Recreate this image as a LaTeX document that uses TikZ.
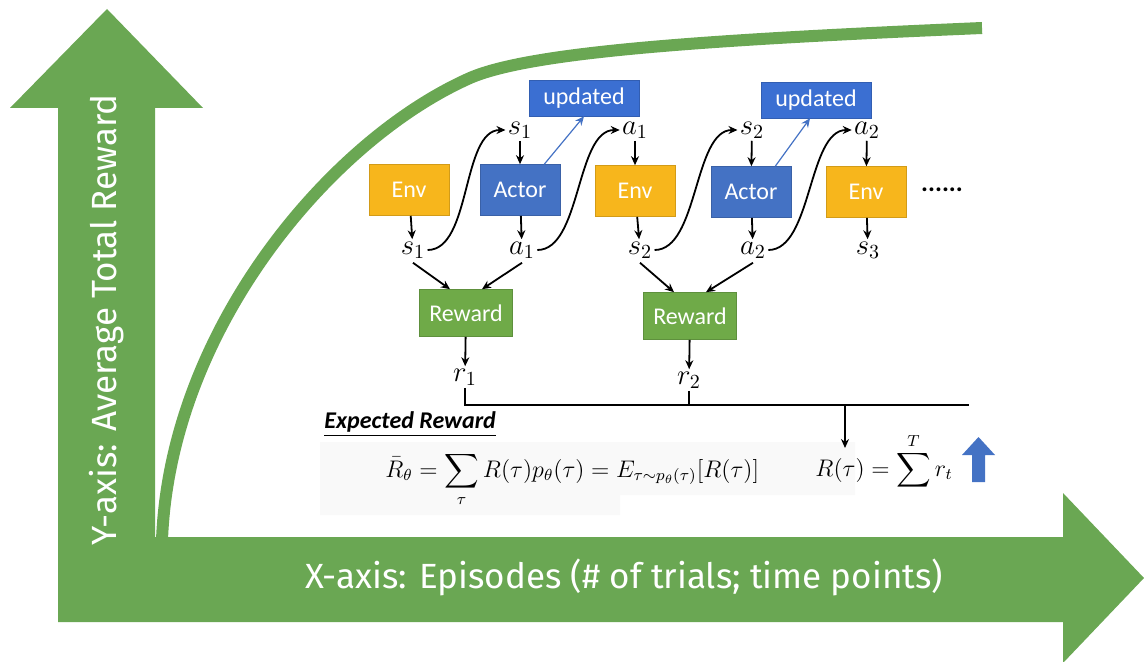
\documentclass[tikz,border=0pt]{standalone}
\usepackage[no-math]{fontspec}
\setmainfont{Carlito}
\newfontfamily\axisfont{Fira Sans}
\usepackage{amsmath}
\usetikzlibrary{arrows.meta}
\definecolor{axisgreen}{HTML}{6AA753}
\definecolor{envgold}{HTML}{F7B61C}
\definecolor{actorblue}{HTML}{4472C4}
\definecolor{updblue}{HTML}{3B6FD2}
\definecolor{rewgreen}{HTML}{6FAA48}

\begin{document}
\begin{tikzpicture}[
x=0.5pt, y=-0.5pt,
arr/.style={-{Stealth[length=4.5pt,width=4pt]}, line width=0.9pt},
box/.style={minimum width=40pt, minimum height=25.5pt, inner sep=0pt,
  text=white, font=\fontsize{12}{14}\selectfont, line width=0.3pt},
envbox/.style={box, fill=envgold, draw=envgold!85!black},
actorbox/.style={box, fill=actorblue, draw=actorblue!85!black},
updbox/.style={box, minimum width=55pt, minimum height=18pt, fill=updblue, draw=updblue!85!black},
rewbox/.style={box, minimum width=46.5pt, minimum height=23.5pt, fill=rewgreen, draw=rewgreen!85!black},
var/.style={font=\fontsize{14.4}{16}\selectfont, inner sep=1pt},
formula/.style={font=\fontsize{12}{14}\selectfont, inner sep=1pt, anchor=base west},
axislabel/.style={text=white, font=\axisfont\fontsize{17.5}{20}\selectfont}
]
\useasboundingbox (0,0) rectangle (1144,662);

% axes and learning curve
\fill[axisgreen] (58,622) -- (58,108) -- (10,108) -- (107,9) -- (203,108)
  -- (155,108) -- (155,537) -- (1063,537) -- (1063,493) -- (1144,578)
  -- (1063,663) -- (1063,622) -- cycle;
\draw[axisgreen, line width=6pt] (162,540) .. controls (170,330) and (330,140) .. (470,78)
  .. controls (530,52) and (700,40) .. (982,28);
\node[axislabel] (xlab) at (624,577) {X-axis: Episodes (\# of trials; time points)};
\node[axislabel, rotate=90] (ylab) at (107,320) {Y-axis: Average Total Reward};

% faint backdrop of the formula
\fill[gray!5] (320,442) rectangle (855,495) (320,495) rectangle (620,515);

% boxes
\node[envbox] (env1) at (409,190) {Env};
\node[actorbox] (actor1) at (520,190) {Actor};
\node[envbox] (env2) at (635,191) {Env};
\node[actorbox] (actor2) at (751,192) {Actor};
\node[envbox] (env3) at (866,192) {Env};
\node[font=\bfseries\fontsize{13}{15}\selectfont] (dots) at (942,190) {......};
\node[updbox] (upd1) at (584,98) {updated};
\node[updbox] (upd2) at (816,100) {updated};
\node[rewbox] (rew1) at (466,313) {Reward};
\node[rewbox] (rew2) at (690,316) {Reward};

% states and actions
\node[var] (s1t) at (520,130) {$s_1$};
\node[var] (a1t) at (635,130) {$a_1$};
\node[var] (s2t) at (752,130) {$s_2$};
\node[var] (a2t) at (867,130) {$a_2$};
\node[var] (s1b) at (413,250) {$s_1$};
\node[var] (a1b) at (522,250) {$a_1$};
\node[var] (s2b) at (640,250) {$s_2$};
\node[var] (a2b) at (753,250) {$a_2$};
\node[var] (s3) at (868,250) {$s_3$};
\node[var] (r1) at (465,377) {$r_1$};
\node[var] (r2) at (689,380) {$r_2$};

\draw[arr] (env1) -- (s1b);
\draw[arr] (s1t) -- (actor1);
\draw[arr] (actor1) -- (a1b);
\draw[arr] (a1t) -- (env2);
\draw[arr] (env2) -- (s2b);
\draw[arr] (s2t) -- (actor2);
\draw[arr] (actor2) -- (a2b);
\draw[arr] (a2t) -- (env3);
\draw[arr] (env3) -- (s3);

\draw[arr] (s1b.east) .. controls +(22pt,0) and +(-22pt,0) .. (s1t.west);
\draw[arr] (a1b.east) .. controls +(22pt,0) and +(-22pt,0) .. (a1t.west);
\draw[arr] (s2b.east) .. controls +(22pt,0) and +(-22pt,0) .. (s2t.west);
\draw[arr] (a2b.east) .. controls +(22pt,0) and +(-22pt,0) .. (a2t.west);

\draw[arr, actorblue, line width=0.6pt] ([xshift=-8pt]actor1.north east) -- (upd1.south);
\draw[arr, actorblue, line width=0.6pt] ([xshift=-8pt]actor2.north east) -- ([xshift=-3pt]upd2.south);

\draw[arr] ([yshift=-1pt]s1b.south) -- ([xshift=-8pt]rew1.north);
\draw[arr] ([yshift=-1pt]a1b.south) -- ([xshift=8pt]rew1.north);
\draw[arr] ([yshift=-1pt]s2b.south) -- ([xshift=-8pt]rew2.north);
\draw[arr] ([yshift=-1pt]a2b.south) -- ([xshift=8pt]rew2.north);
\draw[arr] (rew1) -- (r1);
\draw[arr] (rew2) -- (r2);

% total reward
\node[font=\bfseries\itshape\fontsize{12}{14}\selectfont, anchor=west, inner sep=1pt] (exp) at (322,424) {\underline{Expected Reward}};
\node[formula] (rbar) at (383,477)
  {$\bar{R}_\theta = \displaystyle\sum_\tau R(\tau)p_\theta(\tau) = E_{\tau\sim p_\theta(\tau)}[R(\tau)]$};
\node[formula] (rtau) at (813,476) {$R(\tau) = \displaystyle\sum^T r_t$};
\coordinate (busend) at (969,405);
\coordinate (tap) at (845,405);
\draw[line width=0.9pt] (r1.south) |- (busend);
\draw[line width=0.9pt] (r2.south) -- (r2.south |- busend);
\draw[arr] (tap) -- ([yshift=14pt]tap |- rtau.base);
\fill[actorblue] (972,482) -- (972,455) -- (962,455) -- (978.5,437) -- (995,455)
  -- (985,455) -- (985,482) -- cycle;

\end{tikzpicture}
\end{document}
